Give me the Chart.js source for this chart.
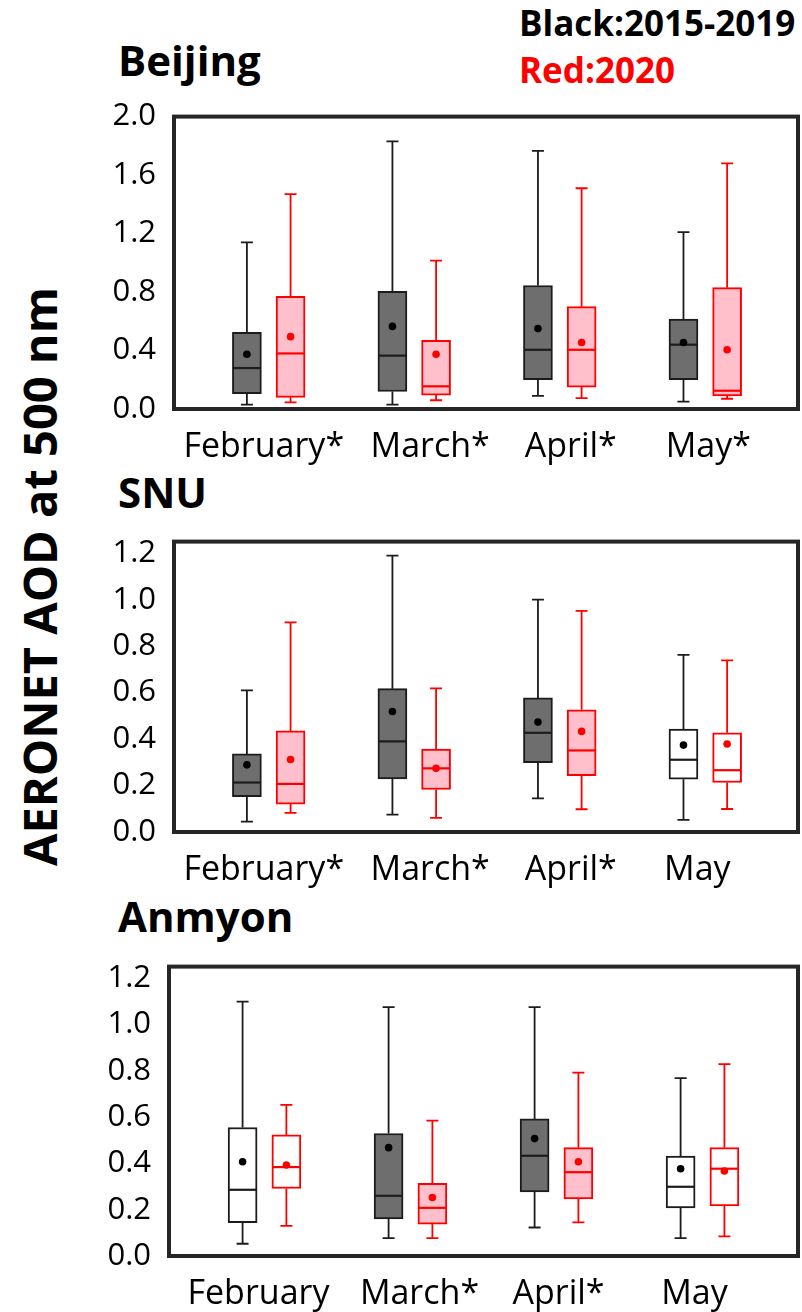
<!DOCTYPE html>
<html>
<head>
<meta charset="utf-8">
<title>AERONET AOD at 500 nm</title>
<script src="https://cdn.jsdelivr.net/npm/chart.js@4.4.1/dist/chart.umd.min.js"></script>
<style>
  body { margin: 0; background: #fff; }
  #page { position: relative; width: 802px; height: 1312px; overflow: hidden; font-family: 'Open Sans', sans-serif; }
  #page canvas { position: absolute; left: 0; }
  .txt { position: absolute; line-height: 1; white-space: nowrap; font-weight: bold; color: #000; }
  .site { font-size: 42px; left: 118px; }
  .legend { font-size: 35px; left: 519px; }
  #ytitle { font-size: 47px; width: 700px; text-align: center; left: -311px; top: 552.5px; transform: rotate(-90deg); }
</style>
</head>
<body>
<div id="page">
  <div class="txt legend" style="top:5px;">Black:2015-2019</div>
  <div class="txt legend" style="top:52px; color:#ff0000;">Red:2020</div>
  <div class="txt site" style="top:39px;">Beijing</div>
  <div class="txt site" style="top:471px;">SNU</div>
  <div class="txt site" style="top:895px;">Anmyon</div>
  <div class="txt" id="ytitle">AERONET AOD at 500 nm</div>
  <canvas id="beijingChart" width="802" height="400" style="top:80px"></canvas>
  <canvas id="snuChart" width="802" height="400" style="top:505px"></canvas>
  <canvas id="anmyonChart" width="802" height="382" style="top:930px"></canvas>
</div>
<script>
const months = ['February', 'March', 'April', 'May'];

// Beijing
const beijingSig = [true, true, true, true];
const beijingTicks = [0.0, 0.4, 0.8, 1.2, 1.6, 2.0];
const beijingBlackMin = [0.03, 0.03, 0.09, 0.05];
const beijingBlackQ1 = [0.105, 0.12, 0.20, 0.20];
const beijingBlackMed = [0.28, 0.365, 0.405, 0.44];
const beijingBlackQ3 = [0.525, 0.805, 0.845, 0.615];
const beijingBlackMax = [1.14, 1.83, 1.765, 1.21];
const beijingBlackMean = [0.375, 0.565, 0.55, 0.455];
const beijingRedMin = [0.045, 0.06, 0.075, 0.07];
const beijingRedQ1 = [0.08, 0.095, 0.15, 0.09];
const beijingRedMed = [0.38, 0.155, 0.405, 0.125];
const beijingRedQ3 = [0.77, 0.47, 0.70, 0.83];
const beijingRedMax = [1.47, 1.015, 1.51, 1.68];
const beijingRedMean = [0.495, 0.375, 0.455, 0.405];

// SNU
const snuSig = [true, true, true, false];
const snuTicks = [0.0, 0.2, 0.4, 0.6, 0.8, 1.0, 1.2];
const snuBlackMin = [0.045, 0.075, 0.145, 0.052];
const snuBlackQ1 = [0.152, 0.228, 0.298, 0.227];
const snuBlackMed = [0.213, 0.39, 0.427, 0.311];
const snuBlackQ3 = [0.336, 0.617, 0.577, 0.443];
const snuBlackMax = [0.61, 1.19, 1.0, 0.762];
const snuBlackMean = [0.289, 0.519, 0.473, 0.374];
const snuRedMin = [0.082, 0.061, 0.098, 0.099];
const snuRedQ1 = [0.12, 0.183, 0.243, 0.213];
const snuRedMed = [0.207, 0.274, 0.351, 0.266];
const snuRedQ3 = [0.435, 0.357, 0.526, 0.427];
const snuRedMax = [0.902, 0.618, 0.952, 0.739];
const snuRedMean = [0.312, 0.274, 0.433, 0.379];

// Anmyon
const anmyonSig = [false, true, true, false];
const anmyonTicks = [0.0, 0.2, 0.4, 0.6, 0.8, 1.0, 1.2];
const anmyonBlackMin = [0.053, 0.077, 0.123, 0.077];
const anmyonBlackQ1 = [0.144, 0.160, 0.277, 0.208];
const anmyonBlackMed = [0.286, 0.260, 0.433, 0.299];
const anmyonBlackQ3 = [0.555, 0.529, 0.592, 0.432];
const anmyonBlackMax = [1.099, 1.075, 1.075, 0.768];
const anmyonBlackMean = [0.407, 0.468, 0.507, 0.377];
const anmyonRedMin = [0.130, 0.077, 0.145, 0.085];
const anmyonRedQ1 = [0.292, 0.138, 0.247, 0.216];
const anmyonRedMed = [0.384, 0.208, 0.362, 0.377];
const anmyonRedQ3 = [0.523, 0.314, 0.468, 0.468];
const anmyonRedMax = [0.653, 0.585, 0.792, 0.829];
const anmyonRedMean = [0.393, 0.253, 0.407, 0.367];

Chart.defaults.font.family = "'Open Sans', sans-serif";
Chart.defaults.color = '#000';

// whiskers, caps and median line for every box dataset
const whiskerPlugin = {
  id: 'whiskers',
  afterDatasetDraw(chart, args) {
    const ds = chart.data.datasets[args.index];
    if (!ds.stats) return;
    const ctx = chart.ctx;
    const xs = chart.scales.x;
    const ys = chart.scales.y;
    const half = ds.barThickness / 2;
    const cap = 6;
    ctx.save();
    ctx.strokeStyle = ds.borderColor;
    ds.data.forEach((pt, i) => {
      const px = xs.getPixelForValue(pt.x);
      const yMin = ys.getPixelForValue(ds.stats.min[i]);
      const yQ1 = ys.getPixelForValue(ds.stats.q1[i]);
      const yQ3 = ys.getPixelForValue(ds.stats.q3[i]);
      const yMax = ys.getPixelForValue(ds.stats.max[i]);
      const yMed = ys.getPixelForValue(ds.stats.med[i]);
      ctx.lineWidth = 1.8;
      ctx.beginPath();
      ctx.moveTo(px, yQ1); ctx.lineTo(px, yMin);
      ctx.moveTo(px, yQ3); ctx.lineTo(px, yMax);
      ctx.moveTo(px - cap, yMin); ctx.lineTo(px + cap, yMin);
      ctx.moveTo(px - cap, yMax); ctx.lineTo(px + cap, yMax);
      ctx.stroke();
      ctx.lineWidth = 2.2;
      ctx.beginPath();
      ctx.moveTo(px - half + 1, yMed); ctx.lineTo(px + half - 1, yMed);
      ctx.stroke();
    });
    ctx.restore();
  }
};

const framePlugin = {
  id: 'frame',
  afterDraw(chart) {
    const { ctx, chartArea: a } = chart;
    ctx.save();
    ctx.strokeStyle = '#262626';
    ctx.lineWidth = 4;
    ctx.strokeRect(a.left, a.top, a.right - a.left, a.bottom - a.top);
    ctx.restore();
  }
};

function boxDataset(label, offset, q1, med, q3, min, max, sig, fill, border) {
  return {
    type: 'bar',
    label: label,
    data: months.map((m, i) => ({ x: i + offset, y: [q1[i], q3[i]] })),
    stats: { min: min, q1: q1, med: med, q3: q3, max: max },
    backgroundColor: sig.map(s => s ? fill : '#ffffff'),
    borderColor: border,
    borderWidth: 2,
    borderSkipped: false,
    barThickness: 29,
    grouped: false,
    order: 2
  };
}

function meanDataset(label, offset, mean, color) {
  return {
    type: 'scatter',
    label: label,
    data: months.map((m, i) => ({ x: i + offset, y: mean[i] })),
    pointRadius: 3.8,
    pointBackgroundColor: color,
    pointBorderWidth: 0,
    order: 0
  };
}

function createBoxChart(canvasId, p) {
  const canvas = document.getElementById(canvasId);
  const labels = months.map((m, i) => p.sig[i] ? m + '*' : m);
  // month labels sit a little off the box-pair centres, as in the figure
  const labelAt = months.map((m, i) => i + p.labelShift[i] / 146);
  new Chart(canvas.getContext('2d'), {
    type: 'bar',
    data: {
      datasets: [
        boxDataset('2015-2019', -0.15, p.black.q1, p.black.med, p.black.q3, p.black.min, p.black.max, p.sig, '#6e6e6e', '#1c1c1c'),
        boxDataset('2020', 0.15, p.red.q1, p.red.med, p.red.q3, p.red.min, p.red.max, p.sig, '#ffc0cb', '#ff0000'),
        meanDataset('2015-2019 mean', -0.15, p.black.mean, '#000000'),
        meanDataset('2020 mean', 0.15, p.red.mean, '#ff0000')
      ]
    },
    options: {
      responsive: false,
      animation: false,
      layout: {
        padding: { left: 0, right: canvas.width - p.area.right, top: p.area.top, bottom: 0 }
      },
      plugins: {
        legend: { display: false },
        tooltip: { enabled: false }
      },
      scales: {
        x: {
          type: 'linear',
          offset: false,
          min: p.xMin,
          max: p.xMax,
          grid: { display: false, drawTicks: false },
          border: { display: false },
          afterBuildTicks: scale => { scale.ticks = labelAt.map(v => ({ value: v })); },
          afterFit: scale => { scale.height = canvas.height - p.area.bottom; },
          ticks: {
            autoSkip: false,
            maxRotation: 0,
            padding: 18,
            font: { size: 34 },
            callback: (value, index) => labels[index]
          }
        },
        y: {
          min: 0,
          max: p.yMax,
          grid: { display: false, drawTicks: false },
          border: { display: false },
          afterBuildTicks: scale => { scale.ticks = p.ticks.map(v => ({ value: v })); },
          afterFit: scale => { scale.width = p.area.left; },
          ticks: {
            padding: 18,
            font: { size: 31 },
            callback: value => value.toFixed(1)
          }
        }
      }
    },
    plugins: [whiskerPlugin, framePlugin]
  });
}

createBoxChart('beijingChart', {
  sig: beijingSig, ticks: beijingTicks, yMax: 2.0,
  xMin: -0.651, xMax: 3.637,
  labelShift: [-5, 16, 11, 3],
  area: { left: 174, right: 800, top: 24, bottom: 329 },
  black: { min: beijingBlackMin, q1: beijingBlackQ1, med: beijingBlackMed, q3: beijingBlackQ3, max: beijingBlackMax, mean: beijingBlackMean },
  red: { min: beijingRedMin, q1: beijingRedQ1, med: beijingRedMed, q3: beijingRedQ3, max: beijingRedMax, mean: beijingRedMean }
});

createBoxChart('snuChart', {
  sig: snuSig, ticks: snuTicks, yMax: 1.25,
  xMin: -0.651, xMax: 3.637,
  labelShift: [-5, 16, 11, -8],
  area: { left: 174, right: 800, top: 20, bottom: 327 },
  black: { min: snuBlackMin, q1: snuBlackQ1, med: snuBlackMed, q3: snuBlackQ3, max: snuBlackMax, mean: snuBlackMean },
  red: { min: snuRedMin, q1: snuRedQ1, med: snuRedMed, q3: snuRedQ3, max: snuRedMax, mean: snuRedMean }
});

createBoxChart('anmyonChart', {
  sig: anmyonSig, ticks: anmyonTicks, yMax: 1.25,
  xMin: -0.654, xMax: 3.654,
  labelShift: [-6, 9, 2, -8],
  area: { left: 169, right: 798, top: 20, bottom: 326 },
  black: { min: anmyonBlackMin, q1: anmyonBlackQ1, med: anmyonBlackMed, q3: anmyonBlackQ3, max: anmyonBlackMax, mean: anmyonBlackMean },
  red: { min: anmyonRedMin, q1: anmyonRedQ1, med: anmyonRedMed, q3: anmyonRedQ3, max: anmyonRedMax, mean: anmyonRedMean }
});
</script>
</body>
</html>
